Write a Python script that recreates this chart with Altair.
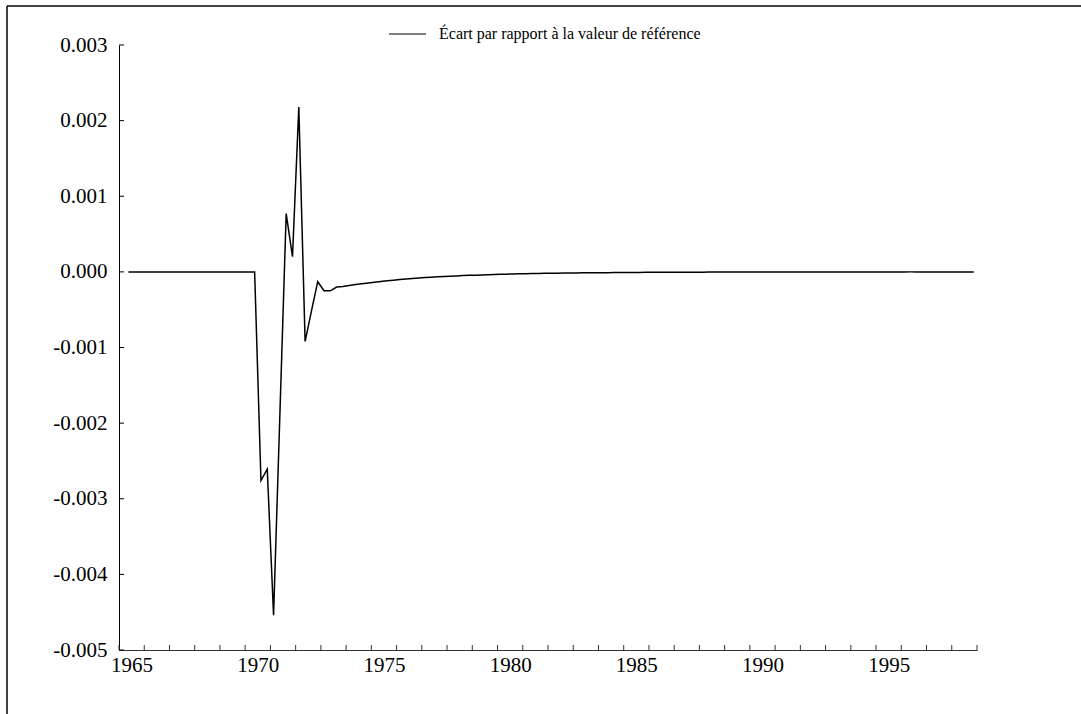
import altair as alt
import pandas as pd

# Quarterly observations, 1965Q2 .. 1998Q4
start_year, start_q = 1965, 2
end_year, end_q = 1998, 4

pre_shock = [0.0] * 21  # 1965Q2 .. 1970Q2

shock = [
    -0.00276, -0.00261, -0.00454, -0.00189,   # 1970Q3 .. 1971Q2
    0.00077, 0.00020, 0.00218, -0.00092,      # 1971Q3 .. 1972Q2
    -0.00052, -0.00013, -0.00025, -0.00025,   # 1972Q3 .. 1973Q2
]

tail = [
    -0.000200, -0.000192,                                   # 1973Q3-Q4
    -0.000180, -0.000168, -0.000157, -0.000147,             # 1974
    -0.000137, -0.000127, -0.000118, -0.000110,             # 1975
    -0.000102, -0.000095, -0.000088, -0.000082,             # 1976
    -0.000076, -0.000071, -0.000066, -0.000061,             # 1977
    -0.000057, -0.000053, -0.000049, -0.000046,             # 1978
    -0.000043, -0.000040, -0.000037, -0.000034,             # 1979
    -0.000032, -0.000030, -0.000028, -0.000026,             # 1980
    -0.000024, -0.000022, -0.000021, -0.000019,             # 1981
    -0.000018, -0.000017, -0.000016, -0.000015,             # 1982
    -0.000014, -0.000013, -0.000012, -0.000011,             # 1983
    -0.000010, -0.000010, -0.000009, -0.000008,             # 1984
    -0.000008, -0.000007, -0.000007, -0.000006,             # 1985
    -0.000006, -0.000005, -0.000005, -0.000005,             # 1986
    -0.000004, -0.000004, -0.000004, -0.000004,             # 1987
    -0.000004, -0.000003, -0.000003, -0.000003,             # 1988
    -0.000003, -0.000002, -0.000002, -0.000002,             # 1989
    -0.000002, -0.000002, -0.000002, -0.000002,             # 1990
    -0.000002, -0.000001, -0.000001, -0.000001,             # 1991
    -0.000001, -0.000001, -0.000001, -0.000001,             # 1992
    -0.000001, -0.000001, -0.000001, -0.000001,             # 1993
    -0.000001, -0.000001, -0.000001, -0.000001,             # 1994
    -0.000001, -0.000001, -0.000001, -0.000001,             # 1995
    -0.000001, 0.000000, 0.000000, 0.000000,                # 1996
    0.000000, 0.000000, 0.000000, 0.000000,                 # 1997
    0.000000, 0.000000, 0.000000, 0.000000,                 # 1998
]

values = pre_shock + shock + tail
series_name = "Écart par rapport à la valeur de référence"

y_ticks = [-0.005, -0.004, -0.003, -0.002, -0.001, 0.0, 0.001, 0.002, 0.003]
x_labels = [1965, 1970, 1975, 1980, 1985, 1990, 1995]
x_ticks = list(range(1965, 2000))

# time positions (mid-quarter)
times = []
y, q = start_year, start_q
while (y, q) <= (end_year, end_q):
    times.append(y + (q - 0.5) / 4)
    q += 1
    if q > 4:
        q = 1
        y += 1

df = pd.DataFrame({"t": times, "v": values, "serie": series_name})
ytick_df = pd.DataFrame({"v": y_ticks})
xtick_df = pd.DataFrame({"t": x_ticks})

W, H = 858, 605
FONT = "Liberation Serif, Times New Roman, DejaVu Serif, serif"

xscale = alt.Scale(domain=[1965, 1999], nice=False, zero=False)
yscale = alt.Scale(domain=[-0.005, 0.003], nice=False, zero=False)

line = alt.Chart(df).mark_line(strokeWidth=1.5, clip=False).encode(
    x=alt.X("t:Q", scale=xscale, title=None,
            axis=alt.Axis(values=x_labels, format="d", tickSize=0, labelOffset=12.6,
                          labelFlush=False, labelOverlap=False,
                          labelPadding=4, grid=False, domainColor="#333333",
                          labelFontSize=21, labelColor="black", labelFont=FONT)),
    y=alt.Y("v:Q", scale=yscale, title=None,
            axis=alt.Axis(values=y_ticks, tickSize=0, labelPadding=12, grid=False,
                          labelFlush=False, labelOverlap=False,
                          domainColor="black", labelFontSize=21, labelColor="black",
                          labelFont=FONT,
                          labelExpr="datum.value < 0 ? '-' + format(-datum.value, '.3f') : format(datum.value, '.3f')")),
    color=alt.Color("serie:N", scale=alt.Scale(range=["black"]), title=None,
                    legend=alt.Legend(orient="none", legendX=269, legendY=-30.5,
                                      symbolType="stroke", symbolSize=1369,
                                      symbolStrokeWidth=1.2, labelOffset=12,
                                      labelFont=FONT, labelFontSize=16,
                                      labelColor="black", padding=0,
                                      labelLimit=600)),
)

yticks = alt.Chart(ytick_df).mark_rule(color="black", strokeWidth=1).encode(
    y=alt.Y("v:Q", scale=yscale),
    x=alt.value(0), x2=alt.value(5),
)

xticks = alt.Chart(xtick_df).mark_rule(color="#333333", strokeWidth=1).encode(
    x=alt.X("t:Q", scale=xscale),
    y=alt.value(H - 5), y2=alt.value(H),
)

frame_left = alt.Chart(pd.DataFrame({"a": [0]})).mark_rule(color="black", strokeWidth=1.5).encode(
    x=alt.value(-112), y=alt.value(-39), y2=alt.value(H + 80),
)
frame_top = alt.Chart(pd.DataFrame({"a": [0]})).mark_rule(color="black", strokeWidth=1.5).encode(
    y=alt.value(-39), x=alt.value(-112), x2=alt.value(W + 120),
)

chart = alt.layer(frame_left, frame_top, yticks, xticks, line).properties(
    width=W, height=H,
    padding={"left": 119, "top": 45, "right": 104, "bottom": 64},
    autosize=alt.AutoSizeParams(type="none"),
    background="white",
).configure(font=FONT).configure_view(strokeWidth=0, stroke="transparent")

chart.save("out.html", embed_options={"renderer": "svg", "actions": False})
